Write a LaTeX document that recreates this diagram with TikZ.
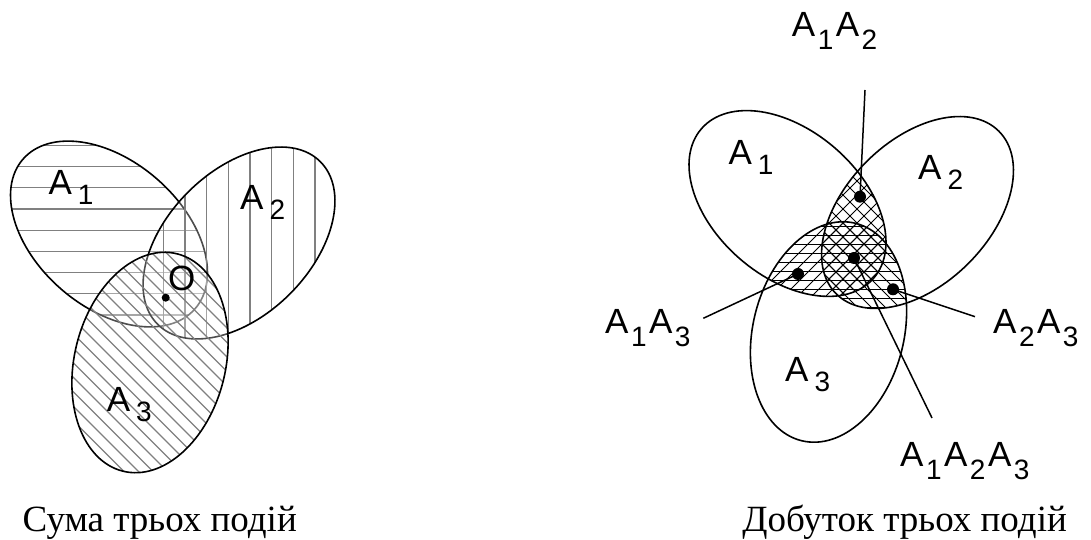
\documentclass[tikz,border=0pt]{standalone}
\usepackage{fontspec}
\setmainfont{Liberation Serif}
\newfontfamily\labfont{Liberation Sans}
\newcommand\subf[1]{{\fontsize{28pt}{28pt}\selectfont #1}}
\newcommand\EL[1]{A\hspace{6pt}\raisebox{-10pt}{\subf{#1}}}
\newcommand\PS[1]{\hspace{2.5pt}\raisebox{-13pt}{\subf{#1}}\hspace{2.5pt}}
\tikzset{
  lab/.style={font=\labfont\fontsize{35pt}{35pt}\selectfont, anchor=base west, inner sep=0pt},
  hatchL/.style={draw=black!50, line width=1.2pt},
  hatchR/.style={draw=black, line width=0.8pt},
  outline/.style={draw=black, line width=1.6pt},
  dotR/.style={circle, fill=black, inner sep=0pt, minimum size=12pt},
  dotL/.style={circle, fill=black, inner sep=0pt, minimum size=8pt},
  captxt/.style={font=\fontsize{37pt}{42pt}\selectfont, anchor=base east, inner sep=0pt},
  conn/.style={draw=black, line width=1.5pt},
  fade/.style={fill=white, fill opacity=0.3},
  eL1/.style={shift={(109,306)},rotate=-41},
  eL2/.style={shift={(239,297)},rotate=45},
  eL3/.style={shift={(150,177.5)},rotate=-14},
  eR1/.style={shift={(787.5,336.5)},rotate=-41},
  eR2/.style={shift={(917.5,327.5)},rotate=45},
  eR3/.style={shift={(828.5,208)},rotate=-14}
}
\begin{document}
\begin{tikzpicture}[x=1pt,y=1pt]
\useasboundingbox (0,0) rectangle (1091,540);
% ---------- left: sum ----------
\begin{scope}
  \clip[eL1] (0,0) ellipse [x radius=114pt, y radius=73pt];
  \foreach \k in {-2,...,11} {\path[hatchL] (0,373.3-21.2*\k) -- (240,373.3-21.2*\k);}
\end{scope}
\path[outline,eL1] (0,0) ellipse [x radius=114pt, y radius=73pt];
\path[fade,eL2] (0,0) ellipse [x radius=115pt, y radius=72pt];
\begin{scope}
  \clip[eL2] (0,0) ellipse [x radius=115pt, y radius=72pt];
  \foreach \k in {-2,...,10} {\path[hatchL] (163.3+21.67*\k,120) -- (163.3+21.67*\k,420);}
\end{scope}
\path[outline,eL2] (0,0) ellipse [x radius=115pt, y radius=72pt];
\path[fade,eL3] (0,0) ellipse [x radius=75.5pt, y radius=112pt];
\begin{scope}
  \clip[eL3] (0,0) ellipse [x radius=75.5pt, y radius=112pt];
  \foreach \c in {120,134.5,...,540} {\path[hatchL] (40,\c-40) -- (260,\c-260);}
\end{scope}
\path[outline,eL3] (0,0) ellipse [x radius=75.5pt, y radius=112pt];
\node[lab] (lA1) at (48.3,345) {\EL{1}};
\node[lab] (lA2) at (240,330) {\EL{2}};
\node[lab] (lA3) at (106.7,128.3) {\EL{3}};
\node[dotL] (dO) at (165.7,242.3) {};
\node[lab] (lO) at (168,249) {O};
\node[captxt] (capL) at (297,8) {Сума трьох подій};
% ---------- right: product ----------
\begin{scope}
  \clip[eR1] (0,0) ellipse [x radius=114pt, y radius=73pt];
  \clip[eR2] (0,0) ellipse [x radius=115pt, y radius=72pt];
  \foreach \c in {-820,-806,...,-280} {\path[hatchR] (680,680+\c) -- (1020,1020+\c);}
  \foreach \c in {880,894,...,1420} {\path[hatchR] (680,\c-680) -- (1020,\c-1020);}
\end{scope}
\begin{scope}
  \clip[eR1] (0,0) ellipse [x radius=114pt, y radius=73pt];
  \clip[eR3] (0,0) ellipse [x radius=75.5pt, y radius=112pt];
  \foreach \c in {-820,-806,...,-280} {\path[hatchR] (680,680+\c) -- (1020,1020+\c);}
  \foreach \k in {0,...,30} {\path[hatchR] (680,170+9*\k) -- (1020,170+9*\k);}
\end{scope}
\begin{scope}
  \clip[eR2] (0,0) ellipse [x radius=115pt, y radius=72pt];
  \clip[eR3] (0,0) ellipse [x radius=75.5pt, y radius=112pt];
  \foreach \c in {880,894,...,1420} {\path[hatchR] (680,\c-680) -- (1020,\c-1020);}
  \foreach \k in {0,...,30} {\path[hatchR] (680,170+9*\k) -- (1020,170+9*\k);}
\end{scope}
\path[outline,eR1] (0,0) ellipse [x radius=114pt, y radius=73pt];
\path[outline,eR2] (0,0) ellipse [x radius=115pt, y radius=72pt];
\path[outline,eR3] (0,0) ellipse [x radius=75.5pt, y radius=112pt];
\node[lab] (rA1) at (728.3,375) {\EL{1}};
\node[lab] (rA2) at (918,360) {\EL{2}};
\node[lab] (rA3) at (785,158.3) {\EL{3}};
\node[dotR] (d12) at (860,343.3) {};
\node[dotR] (d123) at (854,282) {};
\node[dotR] (d13) at (798,266) {};
\node[dotR] (d23) at (893,250.7) {};
\coordinate (e12) at (865,450);
\coordinate (e13) at (703.3,221.7);
\coordinate (e23) at (975,223.3);
\coordinate (e123) at (932,122);
\path[conn] (d12.center) -- (e12);
\path[conn] (d13.center) -- (e13);
\path[conn] (d23.center) -- (e23);
\path[conn] (d123.center) -- (e123);
\node[lab] (l12) at (791.7,503.3) {A\PS{1}A\PS{2}};
\node[lab] (l13) at (605,206.7) {A\PS{1}A\PS{3}};
\node[lab] (l23) at (993,206.7) {A\PS{2}A\PS{3}};
\node[lab] (l123) at (900,73.3) {A\PS{1}A\PS{2}A\PS{3}};
\node[captxt] (capR) at (1067,8) {Добуток трьох подій};
\end{tikzpicture}
\end{document}
